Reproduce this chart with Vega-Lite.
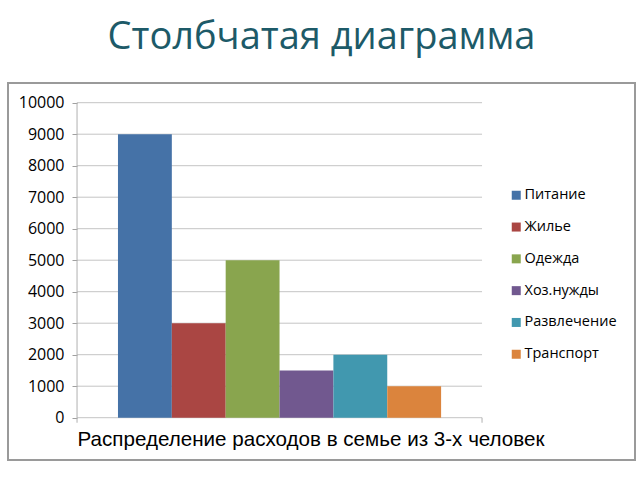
{
  "$schema": "https://vega.github.io/schema/vega-lite/v6.json",
  "autosize": {"type": "none"},
  "width": 627,
  "height": 377,
  "padding": {"left": 8, "top": 83, "right": 5, "bottom": 20},
  "background": "white",
  "title": {
    "text": "Столбчатая диаграмма",
    "font": "Open Sans",
    "fontSize": 38,
    "fontWeight": "normal",
    "color": "#1d5a68",
    "anchor": "middle",
    "frame": "group",
    "offset": 26
  },
  "config": {
    "view": {"stroke": "#9a9a9a", "strokeWidth": 2}
  },
  "resolve": {"axis": {"x": "independent", "y": "independent"}},
  "datasets": {
    "expenses": [
      {"group": "Распределение расходов в семье из 3-х человек", "category": "Питание", "value": 9000},
      {"group": "Распределение расходов в семье из 3-х человек", "category": "Жилье", "value": 3000},
      {"group": "Распределение расходов в семье из 3-х человек", "category": "Одежда", "value": 5000},
      {"group": "Распределение расходов в семье из 3-х человек", "category": "Хоз.нужды", "value": 1500},
      {"group": "Распределение расходов в семье из 3-х человек", "category": "Развлечение", "value": 2000},
      {"group": "Распределение расходов в семье из 3-х человек", "category": "Транспорт", "value": 1000}
    ],
    "grid": [
      {"group": "Распределение расходов в семье из 3-х человек", "v": 0},
      {"group": "Распределение расходов в семье из 3-х человек", "v": 1000},
      {"group": "Распределение расходов в семье из 3-х человек", "v": 2000},
      {"group": "Распределение расходов в семье из 3-х человек", "v": 3000},
      {"group": "Распределение расходов в семье из 3-х человек", "v": 4000},
      {"group": "Распределение расходов в семье из 3-х человек", "v": 5000},
      {"group": "Распределение расходов в семье из 3-х человек", "v": 6000},
      {"group": "Распределение расходов в семье из 3-х человек", "v": 7000},
      {"group": "Распределение расходов в семье из 3-х человек", "v": 8000},
      {"group": "Распределение расходов в семье из 3-х человек", "v": 9000},
      {"group": "Распределение расходов в семье из 3-х человек", "v": 10000}
    ],
    "frame": [
      {"group": "Распределение расходов в семье из 3-х человек"}
    ]
  },
  "layer": [
    {
      "data": {"name": "grid"},
      "mark": {"type": "rule", "color": "#c4c4c4", "strokeWidth": 1},
      "encoding": {
        "x": {
          "field": "group", "type": "nominal", "bandPosition": 0, "axis": null,
          "scale": {"paddingInner": 0, "paddingOuter": 0.2741, "align": 0.311}
        },
        "x2": {"field": "group", "bandPosition": 1},
        "y": {
          "field": "v", "type": "quantitative", "axis": null,
          "scale": {"domain": [-1343, 10625], "nice": false, "zero": false}
        }
      }
    },
    {
      "data": {"name": "frame"},
      "mark": {"type": "rule", "color": "#b0b0b0", "strokeWidth": 1},
      "encoding": {
        "x": {"field": "group", "type": "nominal", "bandPosition": 0, "axis": null},
        "y": {"datum": -160, "type": "quantitative", "axis": null},
        "y2": {"datum": 10000}
      }
    },
    {
      "data": {"name": "frame"},
      "mark": {"type": "rule", "color": "#b0b0b0", "strokeWidth": 1},
      "encoding": {
        "x": {"field": "group", "type": "nominal", "bandPosition": 1, "axis": null},
        "y": {"datum": -160, "type": "quantitative", "axis": null},
        "y2": {"datum": 0}
      }
    },
    {
      "data": {"name": "expenses"},
      "mark": {"type": "bar"},
      "encoding": {
        "x": {
          "field": "group",
          "type": "nominal",
          "axis": {
            "title": null,
            "orient": "bottom",
            "offset": -42,
            "domain": false,
            "ticks": false,
            "grid": false,
            "labelAlign": "left",
            "labelOffset": -202,
            "labelAngle": 0,
            "labelFont": "Liberation Sans",
            "labelFontSize": 20.6,
            "labelLimit": 0,
            "labelPadding": 11,
            "labelColor": "#000000"
          }
        },
        "xOffset": {
          "field": "category",
          "type": "nominal",
          "sort": ["Питание", "Жилье", "Одежда", "Хоз.нужды", "Развлечение", "Транспорт"],
          "scale": {"paddingInner": 0, "paddingOuter": 0.76, "align": 0.5}
        },
        "y": {
          "field": "value",
          "type": "quantitative",
          "axis": {
            "title": null,
            "orient": "left",
            "offset": -69,
            "domain": false,
            "grid": false,
            "values": [0, 1000, 2000, 3000, 4000, 5000, 6000, 7000, 8000, 9000, 10000],
            "format": "d",
            "tickSize": 5,
            "tickColor": "#a0a0a0",
            "labelFont": "Open Sans",
            "labelFontSize": 16,
            "labelPadding": 8,
            "labelColor": "#000000",
            "labelOverlap": false,
            "labelBound": false
          }
        },
        "color": {
          "field": "category",
          "type": "nominal",
          "sort": ["Питание", "Жилье", "Одежда", "Хоз.нужды", "Развлечение", "Транспорт"],
          "scale": {
            "domain": ["Питание", "Жилье", "Одежда", "Хоз.нужды", "Развлечение", "Транспорт"],
            "range": ["#4572a7", "#aa4643", "#89a54e", "#71588f", "#4198af", "#db843d"]
          },
          "legend": {
            "title": null,
            "orient": "none",
            "legendX": 501,
            "legendY": 105,
            "padding": 0,
            "symbolType": "square",
            "symbolSize": 81,
            "symbolStrokeWidth": 0,
            "labelFont": "Open Sans",
            "labelFontSize": 14.5,
            "labelColor": "#000000",
            "labelOffset": 1,
            "rowPadding": 16.8
          }
        }
      }
    }
  ]
}
